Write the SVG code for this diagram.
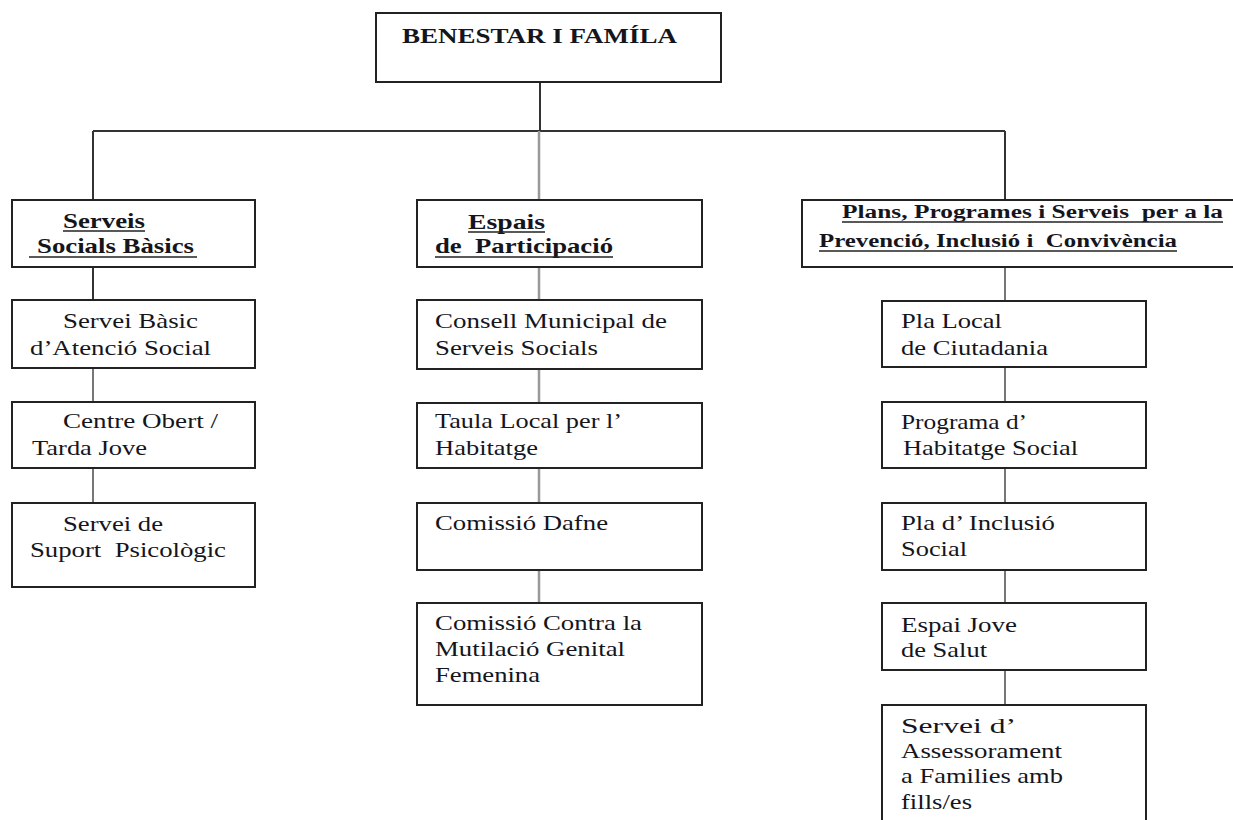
<svg xmlns="http://www.w3.org/2000/svg" width="1233" height="820" viewBox="0 0 1233 820">
<style>
.box{fill:#fff;stroke:#222;stroke-width:2}
.t{font-family:"Liberation Serif","Times New Roman",serif;font-size:21px;fill:#15151c;white-space:pre}
.h{font-family:"Liberation Serif","Times New Roman",serif;font-size:21px;font-weight:bold;fill:#15151c;white-space:pre}
.hs{font-family:"Liberation Serif","Times New Roman",serif;font-size:18px;font-weight:bold;fill:#15151c;white-space:pre}
.u{stroke:#222;stroke-width:1.6}
.c{fill:none;stroke:#333;stroke-width:2}
.g{fill:none;stroke:#999;stroke-width:2.5}
.m{fill:none;stroke:#777;stroke-width:2}
.r{fill:none;stroke:#555;stroke-width:1.6}
</style>
<rect width="1233" height="820" fill="#fff"/>
<g id="connectors">
<path class="c" d="M540 82V131M93 131H1005M93 131V200M1005 131V200M93 267V300"/>
<path class="g" d="M539 131V200M539 267V300M539 369V403M539 468V503M539 570V603"/>
<path class="m" d="M93 368V402M93 468V503"/>
<path class="r" d="M1005 267V301M1005 367V402M1005 468V503M1005 570V603M1005 670V705"/>
</g>
<g id="n-benestar">
<rect class="box" x="376" y="13" width="345" height="69"/>
<text class="h" x="402" y="43" font-size="22" textLength="275" lengthAdjust="spacingAndGlyphs">BENESTAR I FAMÍLA</text>
</g>
<g id="n-serveis-socials">
<rect class="box" x="12" y="200" width="243" height="67"/>
<text class="h" x="63" y="228" textLength="82" lengthAdjust="spacingAndGlyphs">Serveis</text>
<line class="u" x1="63" y1="231" x2="145" y2="231"/>
<text class="h" x="37" y="253" textLength="157" lengthAdjust="spacingAndGlyphs">Socials Bàsics</text>
<line class="u" x1="29" y1="257" x2="197" y2="257"/>
</g>
<g id="n-espais">
<rect class="box" x="417" y="200" width="285" height="67"/>
<text class="h" x="468" y="229" textLength="77" lengthAdjust="spacingAndGlyphs">Espais</text>
<line class="u" x1="468" y1="232" x2="545" y2="232"/>
<text class="h" x="435" y="253" textLength="178" lengthAdjust="spacingAndGlyphs">de  Participació</text>
<line class="u" x1="435" y1="257" x2="613" y2="257"/>
</g>
<g id="n-plans">
<rect class="box" x="802" y="200" width="440" height="67"/>
<text class="hs" x="842" y="218" textLength="381" lengthAdjust="spacingAndGlyphs">Plans, Programes i Serveis  per a la</text>
<line class="u" x1="842" y1="222" x2="1223" y2="222"/>
<text class="hs" x="819" y="247" textLength="358" lengthAdjust="spacingAndGlyphs">Prevenció, Inclusió i  Convivència</text>
<line class="u" x1="819" y1="251" x2="1177" y2="251"/>
</g>
<g id="n-sbas">
<rect class="box" x="12" y="300" width="243" height="68"/>
<text class="t" x="63" y="328" textLength="135" lengthAdjust="spacingAndGlyphs">Servei Bàsic</text>
<text class="t" x="30" y="355" textLength="181" lengthAdjust="spacingAndGlyphs">d’Atenció Social</text>
</g>
<g id="n-centre-obert">
<rect class="box" x="12" y="402" width="243" height="66"/>
<text class="t" x="63" y="428" textLength="155" lengthAdjust="spacingAndGlyphs">Centre Obert /</text>
<text class="t" x="32" y="455" textLength="115" lengthAdjust="spacingAndGlyphs">Tarda Jove</text>
</g>
<g id="n-suport">
<rect class="box" x="12" y="503" width="243" height="84"/>
<text class="t" x="63" y="531" textLength="100" lengthAdjust="spacingAndGlyphs">Servei de</text>
<text class="t" x="30" y="557" textLength="196" lengthAdjust="spacingAndGlyphs">Suport  Psicològic</text>
</g>
<g id="n-consell">
<rect class="box" x="417" y="300" width="285" height="69"/>
<text class="t" x="435" y="328" textLength="232" lengthAdjust="spacingAndGlyphs">Consell Municipal de</text>
<text class="t" x="435" y="355" textLength="163" lengthAdjust="spacingAndGlyphs">Serveis Socials</text>
</g>
<g id="n-taula">
<rect class="box" x="417" y="403" width="285" height="65"/>
<text class="t" x="435" y="428" textLength="187" lengthAdjust="spacingAndGlyphs">Taula Local per l’</text>
<text class="t" x="435" y="455" textLength="103" lengthAdjust="spacingAndGlyphs">Habitatge</text>
</g>
<g id="n-dafne">
<rect class="box" x="417" y="503" width="285" height="67"/>
<text class="t" x="435" y="530" textLength="173" lengthAdjust="spacingAndGlyphs">Comissió Dafne</text>
</g>
<g id="n-mutilacio">
<rect class="box" x="417" y="603" width="285" height="102"/>
<text class="t" x="435" y="630" textLength="207" lengthAdjust="spacingAndGlyphs">Comissió Contra la</text>
<text class="t" x="435" y="656" textLength="190" lengthAdjust="spacingAndGlyphs">Mutilació Genital</text>
<text class="t" x="435" y="682" textLength="105" lengthAdjust="spacingAndGlyphs">Femenina</text>
</g>
<g id="n-pla-local">
<rect class="box" x="882" y="301" width="264" height="66"/>
<text class="t" x="901" y="328" textLength="101" lengthAdjust="spacingAndGlyphs">Pla Local</text>
<text class="t" x="901" y="355" textLength="147" lengthAdjust="spacingAndGlyphs">de Ciutadania</text>
</g>
<g id="n-programa">
<rect class="box" x="882" y="402" width="264" height="66"/>
<text class="t" x="901" y="429" textLength="126" lengthAdjust="spacingAndGlyphs">Programa d’</text>
<text class="t" x="903" y="455" textLength="175" lengthAdjust="spacingAndGlyphs">Habitatge Social</text>
</g>
<g id="n-inclusio">
<rect class="box" x="882" y="503" width="264" height="67"/>
<text class="t" x="901" y="530" textLength="154" lengthAdjust="spacingAndGlyphs">Pla d’ Inclusió</text>
<text class="t" x="901" y="556" textLength="66" lengthAdjust="spacingAndGlyphs">Social</text>
</g>
<g id="n-espai-jove">
<rect class="box" x="882" y="603" width="264" height="67"/>
<text class="t" x="901" y="632" textLength="116" lengthAdjust="spacingAndGlyphs">Espai Jove</text>
<text class="t" x="901" y="657" textLength="86" lengthAdjust="spacingAndGlyphs">de Salut</text>
</g>
<g id="n-assessorament">
<rect class="box" x="882" y="705" width="264" height="130"/>
<text class="t" x="901" y="733" textLength="115" lengthAdjust="spacingAndGlyphs">Servei d’</text>
<text class="t" x="901" y="758" textLength="161" lengthAdjust="spacingAndGlyphs">Assessorament</text>
<text class="t" x="901" y="783" textLength="162" lengthAdjust="spacingAndGlyphs">a Families amb</text>
<text class="t" x="901" y="809" textLength="71" lengthAdjust="spacingAndGlyphs">fills/es</text>
</g>
</svg>
